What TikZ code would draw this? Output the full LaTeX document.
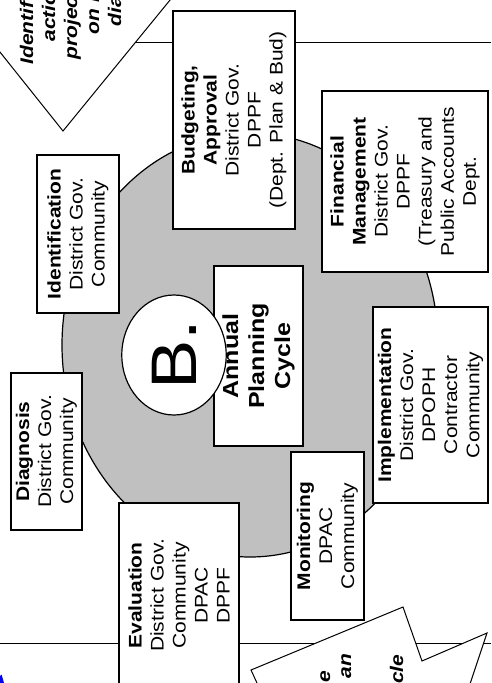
\documentclass[tikz,border=0pt]{standalone}
\usepackage{fontspec}
\setmainfont{Liberation Sans}
\usepackage{tikz}
\usetikzlibrary{calc}
\tikzset{every picture/.style={line width=1.2pt}}
\definecolor{cyclegray}{RGB}{192,192,192}
\tikzset{
  stage/.style={draw, fill=white, inner sep=0pt, align=center, xscale=0.87, rotate=90,
    font=\fontsize{21}{25.3}\selectfont},
  stagesize/.style 2 args={minimum width=#2, minimum height=#1/0.87},
  cycletext/.style={inner sep=0pt, align=center, xscale=0.87, rotate=90,
    font=\fontsize{25}{30}\selectfont\bfseries},
  bmark/.style={circle, draw, fill=white, inner sep=0pt, minimum size=120, xscale=0.87, rotate=90,
    font=\fontsize{74}{80}\selectfont},
  calltext/.style={inner sep=0pt, xscale=0.87, rotate=90,
    font=\fontsize{21}{25.3}\selectfont\bfseries\itshape},
}

\begin{document}
\begin{tikzpicture}[x=1pt,y=1pt,yscale=-1,xscale=1]
\useasboundingbox (0,0) rectangle (491,683);
\clip (0,0) rectangle (491,683);

%Shape: Ellipse (the cycle)
\draw [fill=cyclegray] (250,345) ellipse [x radius=188, y radius=212];

%Shape: Rectangles with text
\node [stage, stagesize={122}{218}] (budget) at (234,120)
  {\textbf{Budgeting,}\\\textbf{Approval}\\District Gov.\\DPPF\\(Dept. Plan \& Bud)};
\node [stage, stagesize={166}{181}] (finance) at (405,181.5)
  {\textbf{Financial}\\\textbf{Management}\\District Gov.\\DPPF\\(Treasury and\\Public Accounts\\Dept.};
\node [stage, stagesize={82}{158}] (ident) at (78,234)
  {\textbf{Identification}\\District Gov.\\Community};
\node [stage, stagesize={89}{180}] (apcbox) at (258.5,356) {};
\node [stage, stagesize={71}{157}] (diagn) at (46.5,451.5)
  {\textbf{Diagnosis}\\District Gov.\\Community};
\node [stage, stagesize={115}{196}] (implem) at (430.5,405)
  {\textbf{Implementation}\\District Gov.\\DPOPH\\Contractor\\Community};
\node [stage, stagesize={73}{168}] (monit) at (327.5,536)
  {\textbf{Monitoring}\\DPAC\\Community};
\node [stage, stagesize={120}{185}] (evalu) at (179,595.5)
  {\textbf{Evaluation}\\District Gov.\\Community\\DPAC\\DPPF};

%Straight Lines
\coordinate (topL) at (120,42);
\coordinate (topR) at (491,42);
\coordinate (botL) at (0,643);
\coordinate (botR) at (491,643);
\draw [line width=1pt] (topL) -- (topL -| budget.north);
\draw [line width=1pt] (topL -| budget.south) -- (topR);
\draw [line width=1pt] (botL) -- (botL -| evalu.north);
\draw [line width=1pt] (botL -| evalu.south) -- (botR);

%Shape: Callout (top left)
\draw [fill=white, line width=1pt] (63,131) -- (224,-66) -- (100,-170) -- (-32,12) -- cycle;
\foreach \frag/\bx/\sy [count=\i] in {Identif/33/65, actio/55/42, projec/77/60, on re/99/35, dia/121/27}
  \node [calltext, anchor=base west] (idtxt\i) at (\bx,\sy) {\frag};

%Shape: Callout (bottom)
\draw [fill=white, line width=1pt] (263,696) -- (251,670) -- (403,607) -- (422,661) -- (487,633) -- (466,696) -- cycle;
\foreach \frag/\bx/\ey [count=\i] in {e/330/670, an/351/653, cle/403/654}
  \node [calltext, anchor=base east] (cytxt\i) at (\bx,\ey) {\frag};

%Shape: Circle B
\node [bmark] (bcirc) at (174,355) {B.};
% Text Node
\node [cycletext] (apc) at (apcbox.center) {Annual\\Planning\\Cycle};

%Shape: blue mark
\fill [blue] (0,683) -- (0,676) -- (1.6,674.5) -- (4,683) -- cycle;

\end{tikzpicture}
\end{document}
